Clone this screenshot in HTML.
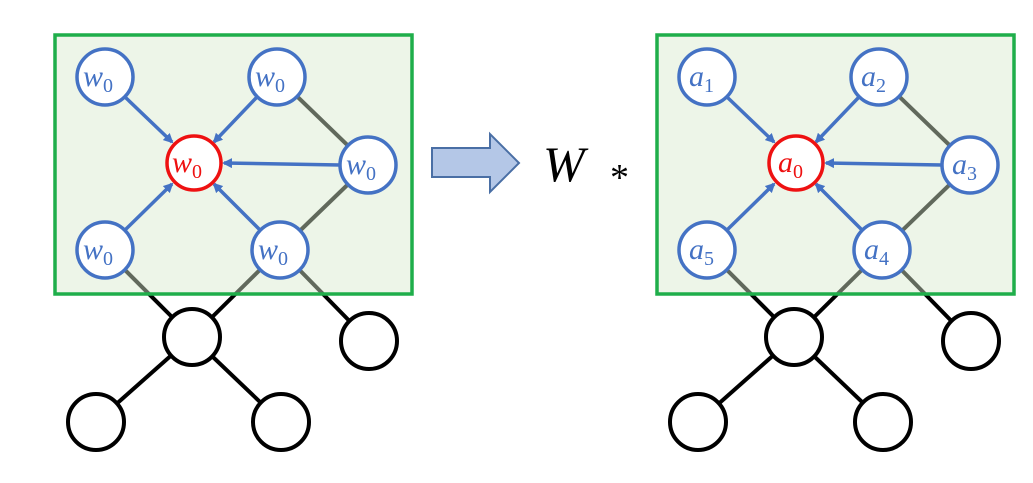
<!DOCTYPE html>
<html><head><meta charset="utf-8"><style>
html,body{margin:0;padding:0;background:#fff;}
svg{display:block}
text{font-family:"Liberation Serif",serif;}
</style></head><body>
<svg width="1033" height="483" viewBox="0 0 1033 483" xmlns="http://www.w3.org/2000/svg">
<defs>
<marker id="ah" markerWidth="10" markerHeight="10" refX="8" refY="5" orient="auto" markerUnits="userSpaceOnUse">
<path d="M0,0 L10,5 L0,10 z" fill="#4472c4"/>
</marker>
</defs>

<!-- LEFT PANEL -->
<g id="L">
<g stroke="#000" stroke-width="4" fill="none">
<line x1="277" y1="77" x2="368" y2="165"/>
<line x1="368" y1="165" x2="280" y2="250"/>
<line x1="105" y1="250" x2="192" y2="337"/>
<line x1="280" y1="250" x2="192" y2="337"/>
<line x1="280" y1="250" x2="369" y2="341"/>
<line x1="192" y1="337" x2="96" y2="422"/>
<line x1="192" y1="337" x2="281" y2="422"/>
</g>
<rect x="55" y="35" width="357" height="259" fill="rgba(215,232,205,0.45)" stroke="#1fae4a" stroke-width="3.5"/>
<g stroke="#4472c4" stroke-width="3.5" marker-end="url(#ah)">
<line x1="125" y1="97" x2="172" y2="142"/>
<line x1="257" y1="97" x2="214" y2="142"/>
<line x1="340" y1="165" x2="224" y2="163"/>
<line x1="125" y1="230" x2="172" y2="184"/>
<line x1="260" y1="230" x2="214" y2="184"/>
</g>
<g fill="#fff" stroke="#000" stroke-width="4">
<circle cx="192" cy="337" r="28"/>
<circle cx="369" cy="341" r="28"/>
<circle cx="96" cy="422" r="28"/>
<circle cx="281" cy="422" r="28"/>
</g>
<g fill="#fff" stroke="#4472c4" stroke-width="3.5">
<circle cx="105" cy="77" r="28"/>
<circle cx="277" cy="77" r="28"/>
<circle cx="368" cy="165" r="28"/>
<circle cx="105" cy="250" r="28"/>
<circle cx="280" cy="250" r="28"/>
</g>
<circle cx="194" cy="163" r="27" fill="#fff" stroke="#ee1111" stroke-width="3.5"/>
<g fill="#4472c4" font-size="30">
<text x="83" y="86" font-style="italic">w<tspan font-style="normal" font-size="20" dy="6">0</tspan></text>
<text x="255" y="86" font-style="italic">w<tspan font-style="normal" font-size="20" dy="6">0</tspan></text>
<text x="346" y="174" font-style="italic">w<tspan font-style="normal" font-size="20" dy="6">0</tspan></text>
<text x="83" y="259" font-style="italic">w<tspan font-style="normal" font-size="20" dy="6">0</tspan></text>
<text x="258" y="259" font-style="italic">w<tspan font-style="normal" font-size="20" dy="6">0</tspan></text>
</g>
<text x="172" y="172" fill="#ee1111" font-size="30" font-style="italic">w<tspan font-style="normal" font-size="20" dy="6">0</tspan></text>
</g>

<!-- ARROW + W* -->
<path d="M432,148 L490,148 L490,134 L519,163 L490,192 L490,177 L432,177 z" fill="#b4c7e7" stroke="#4a6fa5" stroke-width="2"/>
<text x="543" y="181" font-size="50" font-style="italic" fill="#000">W</text>
<text x="610" y="190" font-size="38" fill="#000">*</text>

<!-- RIGHT PANEL -->
<g transform="translate(602,0)">
<g stroke="#000" stroke-width="4" fill="none">
<line x1="277" y1="77" x2="368" y2="165"/>
<line x1="368" y1="165" x2="280" y2="250"/>
<line x1="105" y1="250" x2="192" y2="337"/>
<line x1="280" y1="250" x2="192" y2="337"/>
<line x1="280" y1="250" x2="369" y2="341"/>
<line x1="192" y1="337" x2="96" y2="422"/>
<line x1="192" y1="337" x2="281" y2="422"/>
</g>
<rect x="55" y="35" width="357" height="259" fill="rgba(215,232,205,0.45)" stroke="#1fae4a" stroke-width="3.5"/>
<g stroke="#4472c4" stroke-width="3.5" marker-end="url(#ah)">
<line x1="125" y1="97" x2="172" y2="142"/>
<line x1="257" y1="97" x2="214" y2="142"/>
<line x1="340" y1="165" x2="224" y2="163"/>
<line x1="125" y1="230" x2="172" y2="184"/>
<line x1="260" y1="230" x2="214" y2="184"/>
</g>
<g fill="#fff" stroke="#000" stroke-width="4">
<circle cx="192" cy="337" r="28"/>
<circle cx="369" cy="341" r="28"/>
<circle cx="96" cy="422" r="28"/>
<circle cx="281" cy="422" r="28"/>
</g>
<g fill="#fff" stroke="#4472c4" stroke-width="3.5">
<circle cx="105" cy="77" r="28"/>
<circle cx="277" cy="77" r="28"/>
<circle cx="368" cy="165" r="28"/>
<circle cx="105" cy="250" r="28"/>
<circle cx="280" cy="250" r="28"/>
</g>
<circle cx="194" cy="163" r="27" fill="#fff" stroke="#ee1111" stroke-width="3.5"/>
<g fill="#4472c4" font-size="30">
<text x="87" y="86" font-style="italic">a<tspan font-style="normal" font-size="20" dy="6">1</tspan></text>
<text x="259" y="86" font-style="italic">a<tspan font-style="normal" font-size="20" dy="6">2</tspan></text>
<text x="350" y="174" font-style="italic">a<tspan font-style="normal" font-size="20" dy="6">3</tspan></text>
<text x="87" y="259" font-style="italic">a<tspan font-style="normal" font-size="20" dy="6">5</tspan></text>
<text x="262" y="259" font-style="italic">a<tspan font-style="normal" font-size="20" dy="6">4</tspan></text>
</g>
<text x="176" y="172" fill="#ee1111" font-size="30" font-style="italic">a<tspan font-style="normal" font-size="20" dy="6">0</tspan></text>
</g>
</svg>
</body></html>
